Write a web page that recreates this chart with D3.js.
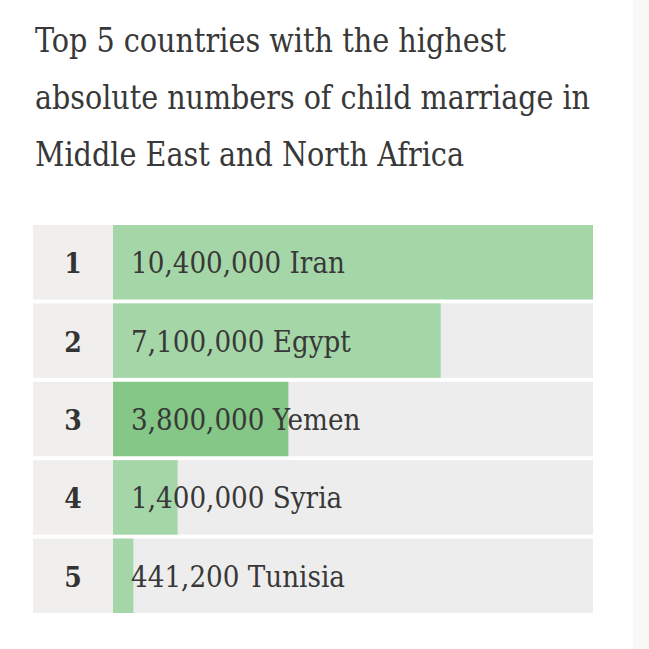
<!DOCTYPE html>
<html>
<head>
<meta charset="utf-8">
<script src="https://cdn.jsdelivr.net/npm/d3@7"></script>
<style>
  html, body { margin: 0; padding: 0; background: #ffffff; }
  svg { display: block; }
</style>
</head>
<body>
<div id="chart"></div>
<script>
const titleLines = [
  "Top 5 countries with the highest",
  "absolute numbers of child marriage in",
  "Middle East and North Africa"
];
const ranks = [1, 2, 3, 4, 5];
const countries = ["Iran", "Egypt", "Yemen", "Syria", "Tunisia"];
const values = [10400000, 7100000, 3800000, 1400000, 441200];
const highlighted = ["Yemen"];

const W = 649, H = 649;
const FONT = "'DejaVu Serif Condensed', 'DejaVu Serif', serif";

const data = countries.map((c, i) => ({ rank: ranks[i], country: c, value: values[i] }));

const svg = d3.select("#chart").append("svg")
  .attr("width", W).attr("height", H);

// right page strip
svg.append("rect").attr("x", 633).attr("y", 0).attr("width", W - 633).attr("height", H)
  .attr("fill", "#f9f8f6");

// title
const titleBase = [52, 109, 166];
const titleTargets = [471, 555, 429];
const title = svg.append("g");
titleLines.forEach((t, i) => {
  title.append("text")
    .attr("x", 35).attr("y", titleBase[i])
    .attr("font-family", FONT)
    .attr("font-stretch", "condensed")
    .attr("font-weight", 300)
    .attr("font-size", 33)
    .attr("fill", "#383838")
    .attr("textLength", titleTargets[i])
    .attr("lengthAdjust", "spacingAndGlyphs")
    .text(t);
});

const x = d3.scaleLinear().domain([0, d3.max(values)]).range([113, 593]);
const y = d3.scaleBand().domain(countries).range([225, 613]).paddingInner(0.05);

const rows = svg.append("g").selectAll("g").data(data).join("g");

// rank cell
rows.append("rect")
  .attr("x", 33).attr("y", d => y(d.country))
  .attr("width", 113 - 33).attr("height", y.bandwidth())
  .attr("fill", "#f0efed");

// track
rows.append("rect")
  .attr("x", x(0)).attr("y", d => y(d.country))
  .attr("width", x.range()[1] - x(0)).attr("height", y.bandwidth())
  .attr("fill", "#ededed");

// bar
rows.append("rect")
  .attr("x", x(0)).attr("y", d => y(d.country))
  .attr("width", d => x(d.value) - x(0)).attr("height", y.bandwidth())
  .attr("fill", d => highlighted.includes(d.country) ? "#84c786" : "#a5d6a7");

// rank number
rows.append("text")
  .attr("x", 73).attr("y", d => y(d.country) + y.bandwidth() / 2 + 11)
  .attr("text-anchor", "middle")
  .attr("font-family", FONT)
  .attr("font-weight", "bold")
  .attr("font-size", 28)
  .attr("fill", "#333333")
  .text(d => d.rank);

// value label
const fmt = d3.format(",");
const labels = rows.append("text")
  .attr("font-family", FONT)
  .attr("font-stretch", "condensed")
  .attr("font-size", 29)
  .attr("fill", "#383838")
  .attr("transform", d => `translate(131,${y(d.country) + y.bandwidth() / 2 + 11})`)
  .text(d => fmt(d.value) + " " + d.country);

// horizontal fit to reference glyph width
const refW = labels.filter(d => d.country === "Iran").node().getComputedTextLength();
const sx = 214 / refW;
labels.attr("transform", d => `translate(131,${y(d.country) + y.bandwidth() / 2 + 11}) scale(${sx},1)`);
</script>
</body>
</html>
